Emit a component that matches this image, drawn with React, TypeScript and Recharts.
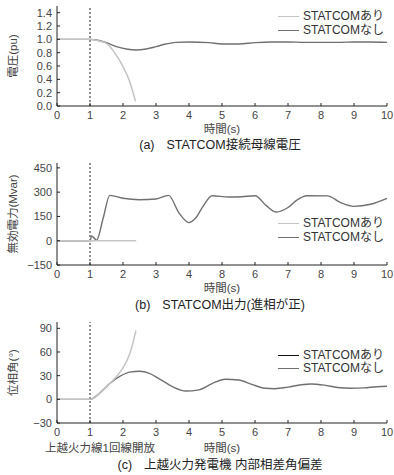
import { Legend, Line, LineChart, ReferenceLine, XAxis, YAxis } from "recharts";

const FONT = '"Liberation Sans", "Noto Sans CJK JP", sans-serif';
const LIGHT = "#c4c4c4";
const DARK = "#707070";

const timeTicks = [0, 1, 2, 3, 4, 5, 6, 7, 8, 9, 10];
const timeLabels = ["0", "1", "2", "3", "4", "5", "6", "7", "8", "9", "10"];
const timeLabelsB = ["0", "1", "2", "3", "4", "8", "6", "7", "8", "9", "10"];

// (a) 接続母線電圧
const voltTicks = [0, 0.2, 0.4, 0.6, 0.8, 1.0, 1.2, 1.4];
const voltLabels = ["0.0", "0.2", "0.4", "0.6", "0.8", "1.0", "1.2", "1.4"];
const voltWithT = [0, 1, 1.2, 1.5, 1.8, 2.0, 2.2, 2.3, 2.38];
const voltWithV = [1.0, 1.0, 0.985, 0.94, 0.76, 0.59, 0.37, 0.21, 0.07];
const voltWithoutT = [0, 1, 1.2, 1.5, 1.8, 2.1, 2.4, 2.7, 3.0, 3.3, 3.6, 4.0, 4.6, 5.0, 5.5, 6.0, 6.5, 7.0, 7.5, 8.0, 8.5, 9.0, 9.5, 10];
const voltWithoutV = [1.0, 1.0, 0.99, 0.95, 0.89, 0.855, 0.84, 0.855, 0.89, 0.93, 0.955, 0.96, 0.95, 0.93, 0.93, 0.95, 0.96, 0.96, 0.955, 0.955, 0.955, 0.96, 0.96, 0.955];

// (b) STATCOM出力
const qTicks = [-150, 0, 150, 300, 450];
const qLabels = ["\u2212150", "0", "150", "300", "450"];
const qWithT = [0, 1, 2.4];
const qWithV = [0, 0, 0];
const qWithoutT = [0, 1.0, 1.05, 1.1, 1.2, 1.4, 1.6, 2.0, 2.5, 3.0, 3.38, 3.7, 4.0, 4.2, 4.45, 4.7, 5.2, 5.6, 6.0, 6.35, 6.65, 7.0, 7.3, 7.57, 8.2, 8.6, 9.0, 9.5, 10];
const qWithoutV = [0, 0, 30, 22, 3, 140, 280, 262, 253, 258, 280, 170, 112, 140, 220, 278, 270, 272, 278, 215, 177, 205, 255, 278, 277, 235, 212, 225, 262];

// (c) 内部相差角偏差
const angTicks = [-30, 0, 30, 60, 90];
const angLabels = ["\u221230", "0", "30", "60", "90"];
const angWithT = [0, 1, 1.3, 1.6, 1.8, 2.0, 2.2, 2.3, 2.39];
const angWithV = [0, 0, 8, 20, 29, 40, 57, 71, 87];
const angWithoutT = [0, 1, 1.3, 1.6, 1.9, 2.2, 2.5, 2.8, 3.1, 3.5, 3.9, 4.3, 4.7, 5.1, 5.5, 5.9, 6.3, 6.6, 7.0, 7.4, 7.7, 8.1, 8.5, 8.9, 9.3, 9.7, 10];
const angWithoutV = [0, 0, 8, 20, 29, 34.5, 35.5, 33, 26, 16, 10.5, 12, 20, 25.5, 24.5, 19, 14, 13.5, 15.5, 18.5, 19.5, 18, 15, 14, 14.5, 16, 16.5];

const seriesNames = ["STATCOMあり", "STATCOMなし"];

const pts = (t: number[], v: number[]) => t.map((x, i) => ({ t: x, v: v[i] }));

function XTick(props: any) {
  const { x, y, payload, labels } = props;
  const i = timeTicks.indexOf(payload.value);
  return (
    <g>
      <line x1={x} x2={x} y1={y} y2={y - 3} stroke="#222" />
      <text x={x} y={y + 12.5} textAnchor="middle" fontSize={11} fill="#444" fontFamily={FONT}>
        {labels[i]}
      </text>
    </g>
  );
}

function YTick(props: any) {
  const { x, y, payload, ticks, labels } = props;
  const i = ticks.findIndex((v: number) => Math.abs(v - payload.value) < 1e-6);
  return (
    <g>
      <line x1={x} x2={x + 3} y1={y} y2={y} stroke="#222" />
      <text x={x - 5} y={y + 4} textAnchor="end" fontSize={11} fill="#444" fontFamily={FONT}>
        {labels[i]}
      </text>
    </g>
  );
}

interface PanelProps {
  top: number;
  plotHeight: number;
  domain: [number, number];
  yTicks: number[];
  yLabels: string[];
  yTitle: string;
  xLabels: string[];
  xTitleDy: number;
  note?: string;
  withData: { t: number; v: number }[];
  withoutData: { t: number; v: number }[];
  withColor: string;
  withoutColor: string;
  legendTop: number;
  legendRow: number;
}

function Panel(p: PanelProps) {
  const height = 6 + p.plotHeight + 42;
  const legend = () => (
    <div style={{ fontFamily: FONT, fontSize: 12, color: "#333" }}>
      {seriesNames.map((n, i) => (
        <div
          key={n}
          style={{ display: "flex", alignItems: "center", height: p.legendRow, lineHeight: `${p.legendRow}px` }}
        >
          <span
            style={{
              display: "inline-block",
              width: 21,
              height: 0,
              borderTop: `1.2px solid ${i === 0 ? p.withColor : p.withoutColor}`,
              marginRight: 4,
            }}
          />
          {n}
        </div>
      ))}
    </div>
  );
  return (
    <div style={{ position: "absolute", left: 0, top: p.top }}>
      <LineChart width={394} height={height} margin={{ top: 6, right: 7, left: 0, bottom: 0 }}>
        <XAxis
          dataKey="t"
          type="number"
          domain={[0, 10]}
          ticks={timeTicks}
          interval={0}
          height={42}
          stroke="#222"
          tickSize={0}
          tickMargin={0}
          tickLine={false}
          tick={(tp: any) => <XTick {...tp} labels={p.xLabels} />}
          label={{
            content: ({ viewBox }: any) => (
              <g fontFamily={FONT} fill="#444" fontSize={11.5}>
                <text x={viewBox.x + viewBox.width / 2} y={viewBox.y + p.xTitleDy} textAnchor="middle">
                  時間(s)
                </text>
                {p.note && (
                  <text x={45} y={viewBox.y + p.xTitleDy} textAnchor="start">
                    {p.note}
                  </text>
                )}
              </g>
            ),
          }}
        />
        <YAxis
          type="number"
          domain={p.domain}
          ticks={p.yTicks}
          interval={0}
          width={57}
          stroke="#222"
          tickSize={0}
          tickMargin={0}
          tickLine={false}
          allowDataOverflow
          tick={(tp: any) => <YTick {...tp} ticks={p.yTicks} labels={p.yLabels} />}
          label={{
            content: ({ viewBox }: any) => {
              const cy = viewBox.y + viewBox.height / 2;
              return (
                <text
                  x={13}
                  y={cy}
                  transform={`rotate(-90, 13, ${cy})`}
                  textAnchor="middle"
                  dominantBaseline="central"
                  fontFamily={FONT}
                  fontSize={11.5}
                  fill="#444"
                >
                  {p.yTitle}
                </text>
              );
            },
          }}
        />
        <ReferenceLine x={1} stroke="#222" strokeDasharray="2 2" strokeWidth={1} />
        <Legend
          layout="horizontal"
          verticalAlign="middle"
          align="center"
          content={legend}
          wrapperStyle={{ top: p.legendTop, left: 278, width: 116 }}
        />
        <Line
          data={p.withoutData}
          dataKey="v"
          type="monotone"
          stroke={DARK}
          strokeWidth={1.4}
          dot={false}
          isAnimationActive={false}
        />
        <Line
          data={p.withData}
          dataKey="v"
          type="monotone"
          stroke={LIGHT}
          strokeWidth={1.5}
          dot={false}
          isAnimationActive={false}
        />
      </LineChart>
    </div>
  );
}

function Caption({ top, tag, text }: { top: number; tag: string; text: string }) {
  return (
    <div
      style={{
        position: "absolute",
        left: 23,
        width: 394,
        top,
        textAlign: "center",
        fontFamily: FONT,
        fontSize: 12.5,
        color: "#222",
        lineHeight: "16px",
        whiteSpace: "nowrap",
      }}
    >
      <span style={{ marginRight: 12 }}>{tag}</span>
      {text}
    </div>
  );
}

export default function App() {
  return (
    <div
      style={{
        position: "fixed",
        left: 0,
        top: 0,
        width: 394,
        height: 475,
        background: "#fff",
        overflow: "hidden",
      }}
    >
      <Panel
        top={0}
        plotHeight={100}
        domain={[0, 1.5]}
        yTicks={voltTicks}
        yLabels={voltLabels}
        yTitle="電圧(pu)"
        xLabels={timeLabels}
        xTitleDy={27}
        withData={pts(voltWithT, voltWithV)}
        withoutData={pts(voltWithoutT, voltWithoutV)}
        withColor={LIGHT}
        withoutColor={DARK}
        legendTop={9}
        legendRow={14}
      />
      <Caption top={137} tag="(a)" text="STATCOM接続母線電圧" />
      <Panel
        top={157}
        plotHeight={102}
        domain={[-150, 480]}
        yTicks={qTicks}
        yLabels={qLabels}
        yTitle="無効電力(Mvar)"
        xLabels={timeLabelsB}
        xTitleDy={27}
        withData={pts(qWithT, qWithV)}
        withoutData={pts(qWithoutT, qWithoutV)}
        withColor={LIGHT}
        withoutColor={DARK}
        legendTop={60}
        legendRow={13.5}
      />
      <Caption top={297} tag="(b)" text="STATCOM出力(進相が正)" />
      <Panel
        top={316}
        plotHeight={101}
        domain={[-30, 98]}
        yTicks={angTicks}
        yLabels={angLabels}
        yTitle="位相角(°)"
        xLabels={timeLabels}
        xTitleDy={29}
        note="上越火力線1回線開放"
        withData={pts(angWithT, angWithV)}
        withoutData={pts(angWithoutT, angWithoutV)}
        withColor="#111"
        withoutColor={DARK}
        legendTop={33}
        legendRow={13}
      />
      <Caption top={457} tag="(c)" text="上越火力発電機 内部相差角偏差" />
    </div>
  );
}
